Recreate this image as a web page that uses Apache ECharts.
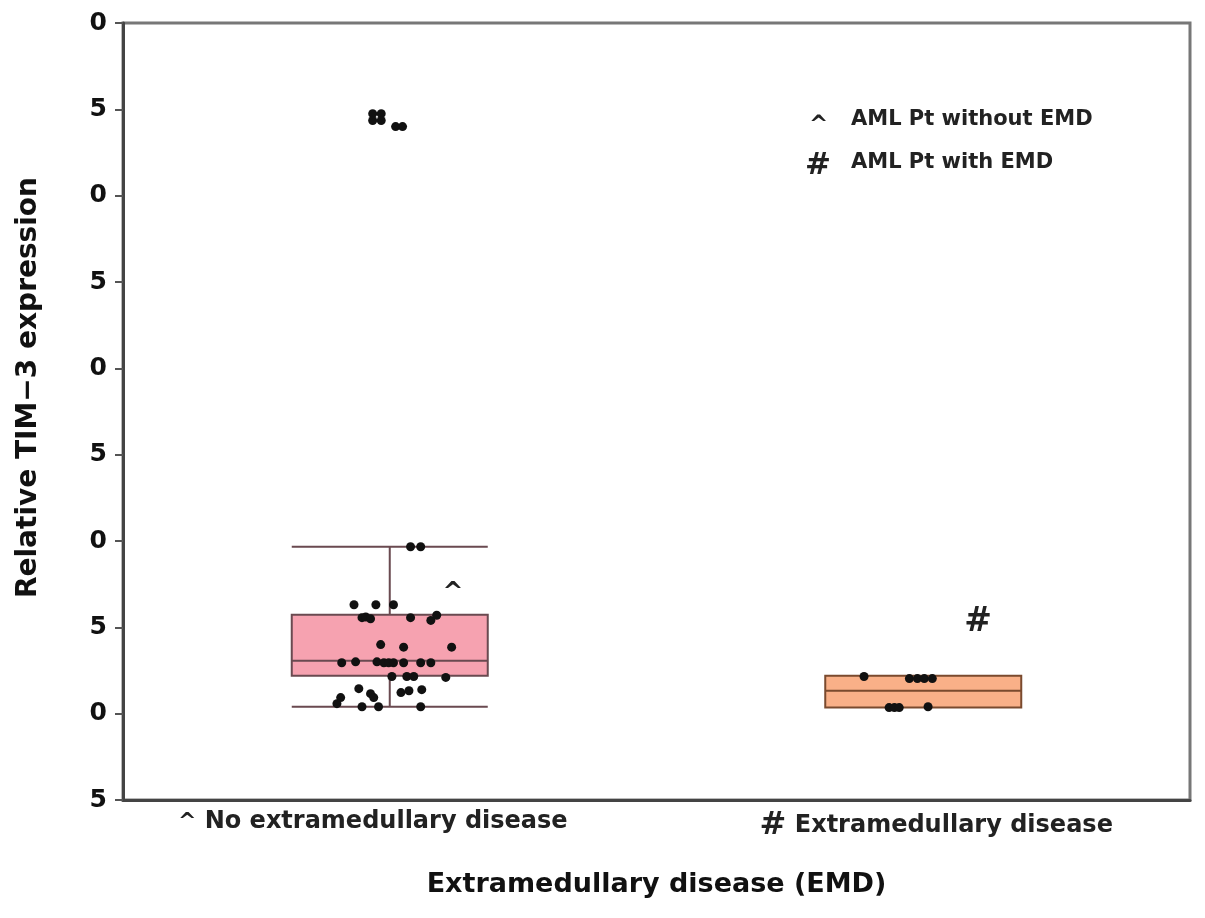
<!DOCTYPE html>
<html>
<head>
<meta charset="utf-8">
<script src="https://cdn.jsdelivr.net/npm/echarts@6/dist/echarts.min.js"></script>
<style>
html,body{margin:0;padding:0;background:#fff;}
#main{width:1205px;height:918px;}
</style>
</head>
<body>
<div id="main"></div>
<script>
var groups = ['No extramedullary disease', 'Extramedullary disease'];
var groupMarks = ['^', '#'];

// y axis -5..40, the labels are cut to their last digit in the figure
var yMin = -5, yMax = 40, yStep = 5;
var yTickLabels = ['5', '0', '5', '0', '5', '0', '5', '0', '5', '0'];

// [min, Q1, median, Q3, max]
var boxNoEmd = [0.4, 2.2, 3.07, 5.73, 9.67];
var boxEmd = [0.35, 0.35, 1.33, 2.2, 2.2];

// patients without EMD: horizontal jitter (fraction of category) and value
var noEmdJitter = [0.039, 0.058,
  -0.067, -0.026, 0.007,
  -0.052, -0.045, -0.036, 0.039, 0.077, 0.088,
  -0.017, 0.026, 0.116,
  -0.090, -0.064, -0.024, -0.011, -0.002, 0.007, 0.026, 0.058, 0.077,
  0.004, 0.032, 0.045, 0.105,
  -0.058, -0.036, -0.030, 0.021, 0.036, 0.060,
  -0.099, -0.092, -0.052, -0.021, 0.058];
var noEmdValues = [9.67, 9.67,
  6.31, 6.31, 6.31,
  5.56, 5.6, 5.5, 5.56, 5.4, 5.7,
  4.0, 3.85, 3.85,
  2.95, 3.0, 3.0, 2.95, 2.95, 2.95, 2.95, 2.95, 2.95,
  2.15, 2.15, 2.15, 2.1,
  1.45, 1.16, 0.93, 1.22, 1.33, 1.39,
  0.58, 0.93, 0.4, 0.4, 0.4];

// outliers of the no EMD group
var outlierJitter = [-0.032, -0.016, -0.032, -0.016, 0.011, 0.024];
var outlierValues = [34.75, 34.75, 34.35, 34.35, 34.0, 34.0];

// patients with EMD
var emdJitter = [-0.111, -0.026, -0.011, 0.002, 0.017, -0.064, -0.054, -0.045, 0.009];
var emdValues = [2.15, 2.03, 2.03, 2.03, 2.03, 0.35, 0.35, 0.35, 0.4];

var font = 'DejaVu Sans';

function points(groupIdx, jit, vals){
  var out = [];
  for (var i = 0; i < vals.length; i++) {
    out.push([groupIdx + jit[i], vals[i]]);
  }
  return out;
}

var dots = points(0, noEmdJitter, noEmdValues)
  .concat(points(0, outlierJitter, outlierValues))
  .concat(points(1, emdJitter, emdValues));

var chart = echarts.init(document.getElementById('main'));

var option = {
  backgroundColor: '#fff',
  animation: false,
  grid: {
    left: 123, top: 23, right: 15, bottom: 118,
    show: true, borderColor: '#777', borderWidth: 3
  },
  xAxis: [{
    type: 'category',
    data: [
      {value: groups[0], textStyle: {padding: [0, 34, 0, 0]}},
      {value: groups[1], textStyle: {padding: [0, 0, 0, 26]}}
    ],
    axisLine: {onZero: false, lineStyle: {color: '#444', width: 3}},
    axisTick: {show: false},
    axisLabel: {
      interval: 0,
      margin: 10,
      color: '#222',
      fontFamily: font,
      fontSize: 24,
      fontWeight: 'bold',
      formatter: function(v, i){
        return (i === 0 ? '{s|' : '{h|') + groupMarks[i] + '} ' + v;
      },
      rich: {
        s: {fontFamily: font, fontSize: 22, fontWeight: 'bold', color: '#222'},
        h: {fontFamily: font, fontSize: 32, fontWeight: 'bold', color: '#222'}
      }
    },
    name: 'Extramedullary disease (EMD)',
    nameLocation: 'middle',
    nameGap: 71,
    nameTextStyle: {fontFamily: font, fontSize: 27, fontWeight: 'bold', color: '#111'}
  }, {
    type: 'value',
    min: -0.5, max: 1.5,
    show: false
  }],
  yAxis: {
    type: 'value',
    min: yMin, max: yMax, interval: yStep,
    splitLine: {show: false},
    axisLine: {show: true, onZero: false, lineStyle: {color: '#444', width: 3}},
    axisTick: {show: true, length: 8, lineStyle: {color: '#555', width: 2}},
    axisLabel: {
      margin: 16,
      color: '#111',
      fontFamily: font,
      fontSize: 25,
      fontWeight: 'bold',
      formatter: function(v){
        return yTickLabels[Math.round((v - yMin) / yStep)];
      }
    },
    name: 'Relative TIM\u22123 expression',
    nameLocation: 'middle',
    nameGap: 80,
    nameTextStyle: {fontFamily: font, fontSize: 28, fontWeight: 'bold', color: '#111', padding: [0, 0, 0, 48]}
  },
  graphic: [
    {type: 'text', x: 809, y: 126, style: {text: '^', font: 'bold 23px "DejaVu Sans"', fill: '#222', verticalAlign: 'middle'}},
    {type: 'text', x: 851, y: 120, style: {text: 'AML Pt without EMD', font: 'bold 21px "DejaVu Sans"', fill: '#222', verticalAlign: 'middle'}},
    {type: 'text', x: 805, y: 166, style: {text: '#', font: 'bold 31px "DejaVu Sans"', fill: '#222', verticalAlign: 'middle'}},
    {type: 'text', x: 851, y: 163, style: {text: 'AML Pt with EMD', font: 'bold 21px "DejaVu Sans"', fill: '#222', verticalAlign: 'middle'}},
    {type: 'text', x: 453, y: 592, style: {text: '^', font: 'bold 25px "DejaVu Sans"', fill: '#222', align: 'center', verticalAlign: 'middle'}},
    {type: 'text', x: 978, y: 622, style: {text: '#', font: 'bold 33px "DejaVu Sans"', fill: '#222', align: 'center', verticalAlign: 'middle'}}
  ],
  series: [{
    type: 'boxplot',
    xAxisIndex: 0,
    boxWidth: [196, 196],
    data: [
      {value: boxNoEmd, itemStyle: {color: '#f6a2b0', borderColor: '#6a4a50', borderWidth: 2}},
      {value: boxEmd, itemStyle: {color: '#f9b088', borderColor: '#7a4a2e', borderWidth: 2}}
    ]
  }, {
    type: 'scatter',
    xAxisIndex: 1,
    symbolSize: 9,
    itemStyle: {color: '#111', opacity: 1},
    data: dots,
    z: 5
  }]
};

chart.setOption(option);
</script>
</body>
</html>
